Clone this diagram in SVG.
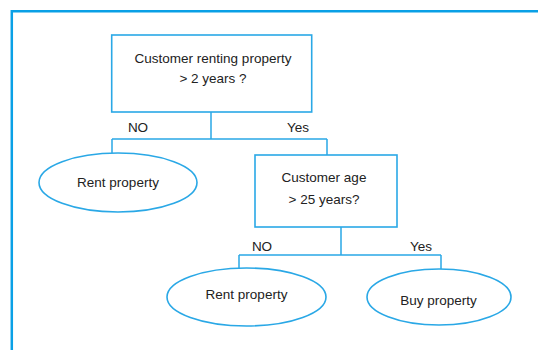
<svg xmlns="http://www.w3.org/2000/svg" width="538" height="350" viewBox="0 0 538 350">
  <style>
    .frame { fill: none; stroke: #0aa0e6; stroke-width: 2.5; }
    .box { fill: #ffffff; stroke: #2aa8e6; stroke-width: 1.6; }
    .leaf { fill: #ffffff; stroke: #2aa8e6; stroke-width: 1.6; }
    .wire { fill: none; stroke: #2aa8e6; stroke-width: 1.5; }
    text { font-family: "Liberation Sans", Arial, sans-serif; font-size: 13.5px; fill: #222222; text-anchor: middle; }
  </style>
  <rect width="538" height="350" fill="#ffffff"/>
  <!-- outer frame, open to the right and bottom -->
  <path class="frame" d="M11.8 350 V11.3 H538"/>

  <g id="connectors">
    <path class="wire" d="M211 112 V139 M112 139 H327 M112 139 V153 M327 139 V155"/>
    <path class="wire" d="M341 227 V255 M239 255 H441 M239 255 V269 M441 255 V269"/>
  </g>

  <g id="q-renting">
    <rect class="box" x="111.7" y="35" width="200" height="77"/>
    <text x="213" y="62.5">Customer renting property</text>
    <text x="213" y="82.5">&gt; 2 years ?</text>
  </g>

  <g id="label-no-1"><text x="138" y="132">NO</text></g>
  <g id="label-yes-1"><text x="298" y="132">Yes</text></g>

  <g id="leaf-rent-1">
    <ellipse class="leaf" cx="118" cy="182.5" rx="79" ry="29.5"/>
    <text x="118" y="187">Rent property</text>
  </g>

  <g id="q-age">
    <rect class="box" x="255" y="155" width="142" height="72"/>
    <text x="324" y="182">Customer age</text>
    <text x="324" y="204">&gt; 25 years?</text>
  </g>

  <g id="label-no-2"><text x="262" y="250.5">NO</text></g>
  <g id="label-yes-2"><text x="421" y="250.5">Yes</text></g>

  <g id="leaf-rent-2">
    <ellipse class="leaf" cx="246.5" cy="297" rx="79.5" ry="29"/>
    <text x="246.5" y="299">Rent property</text>
  </g>

  <g id="leaf-buy">
    <ellipse class="leaf" cx="439" cy="297" rx="72" ry="28"/>
    <text x="438.5" y="305">Buy property</text>
  </g>
</svg>
